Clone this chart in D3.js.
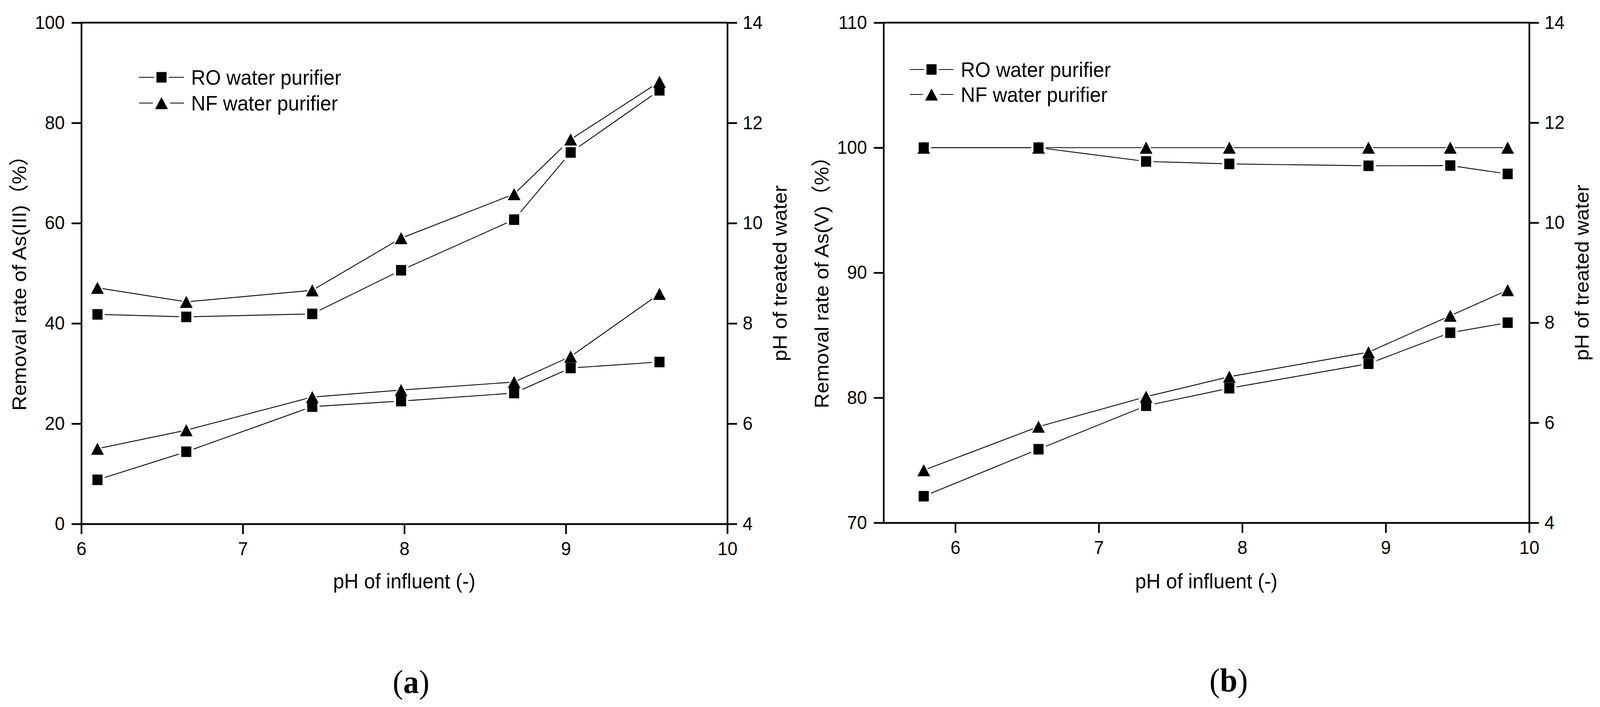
<!DOCTYPE html>
<html><head><meta charset="utf-8">
<script src="https://cdn.jsdelivr.net/npm/d3@7"></script>
<style>
html,body{margin:0;padding:0;background:#fff;overflow:hidden;width:100%;height:100%}
svg{display:block;background:#fff;width:100vw;height:100vh}
</style>
</head><body>
<svg id="chart" viewBox="0 0 4270 1811" preserveAspectRatio="none"></svg>
<script>
// ---------- DATA ----------
// Panel (a): As(III)
const phInfluentA   = [6.10, 6.65, 7.43, 7.98, 8.68, 9.03, 9.58];
const removalRO_A   = [41.8, 41.3, 41.9, 50.6, 60.7, 74.1, 86.5];
const removalNF_A   = [47.1, 44.3, 46.6, 57.0, 65.8, 76.7, 88.2];
const phTreatedRO_A = [4.88, 5.44, 6.34, 6.45, 6.61, 7.11, 7.23];
const phTreatedNF_A = [5.50, 5.87, 6.53, 6.67, 6.83, 7.34, 8.59];
const xTicksA  = [6, 7, 8, 9, 10];
const yLTicksA = [0, 20, 40, 60, 80, 100];
const yRTicks  = [4, 6, 8, 10, 12, 14];

// Panel (b): As(V)
const phInfluentB   = [5.78, 6.58, 7.33, 7.91, 8.88, 9.45, 9.85];
const removalRO_B   = [100, 100, 98.9, 98.7, 98.55, 98.57, 97.9];
const removalNF_B   = [100, 100, 100, 100, 100, 100, 100];
const phTreatedRO_B = [4.53, 5.47, 6.34, 6.69, 7.18, 7.80, 8.00];
const phTreatedNF_B = [5.05, 5.92, 6.52, 6.92, 7.41, 8.14, 8.65];
const xTicksB  = [6, 7, 8, 9, 10];
const yLTicksB = [70, 80, 90, 100, 110];

const seriesNames = ["RO water purifier", "NF water purifier"];
const xTitle = "pH of influent (-)";
const yRTitle = "pH of treated water";

// ---------- LAYOUT ----------
const FONT = '"Liberation Sans", Arial, "Noto Sans CJK SC", sans-serif';
const svg = d3.select("#chart");
svg.append("rect").attr("width", 4270).attr("height", 1811).attr("fill", "#fff");

const panels = [
  {
    x: phInfluentA, xDomain: [6, 10], xTicks: xTicksA,
    yLDomain: [0, 100], yLTicks: yLTicksA, yRDomain: [4, 14],
    removal: [removalRO_A, removalNF_A], ph: [phTreatedRO_A, phTreatedNF_A],
    left: 217, right: 1941, top: 58, bottom: 1342,
    yTitle: "Removal rate of As(III)（%）", yTitleX: 70, yTitleY: 712, yRTitleX: 2100,
    legX0: 371, legX1: 491, legMx: 431, legTx: 510, legY: [198, 264],
    label: "a", labelX: 1097, labelY: 1775
  },
  {
    x: phInfluentB, xDomain: [5.5, 10], xTicks: xTicksB,
    yLDomain: [70, 110], yLTicks: yLTicksB, yRDomain: [4, 14],
    removal: [removalRO_B, removalNF_B], ph: [phTreatedRO_B, phTreatedNF_B],
    left: 2358, right: 4081, top: 58, bottom: 1339,
    yTitle: "Removal rate of As(V)（%）", yTitleX: 2211, yTitleY: 710, yRTitleX: 4240,
    legX0: 2428, legX1: 2544, legMx: 2486, legTx: 2564, legY: [178, 242],
    label: "b", labelX: 3279, labelY: 1771
  }
];

const SQ = 27, TW = 34, TH = 31;
function squarePath(s) { const h = s / 2; return `M${-h},${-h}H${h}V${h}H${-h}Z`; }
function triPath(w, h) { return `M0,${-h/2}L${w/2},${h/2}L${-w/2},${h/2}Z`; }
const shapes = [squarePath(SQ), triPath(TW, TH)];
const halos = [squarePath(SQ + 12), triPath(TW + 14, TH + 12)];

function styleAxis(g, fs) {
  g.attr("font-family", FONT).attr("font-size", fs);
  g.selectAll("path.domain").attr("stroke", "#000").attr("stroke-width", 4.5).attr("stroke-linecap", "square");
  g.selectAll(".tick line").attr("stroke", "#000").attr("stroke-width", 4.5);
  g.selectAll(".tick text").attr("fill", "#000");
}

panels.forEach(p => {
  const x = d3.scaleLinear().domain(p.xDomain).range([p.left, p.right]);
  const yL = d3.scaleLinear().domain(p.yLDomain).range([p.bottom, p.top]);
  const yR = d3.scaleLinear().domain(p.yRDomain).range([p.bottom, p.top]);
  const g = svg.append("g");

  // data lines and markers
  const linesG = g.append("g");
  const haloG = g.append("g");
  const markG = g.append("g");
  const sets = [];
  p.removal.forEach((vals, i) => sets.push({ pts: vals.map((v, k) => [p.x[k], v]), y: yL, s: i }));
  p.ph.forEach((vals, i) => sets.push({ pts: vals.map((v, k) => [p.x[k], v]), y: yR, s: i }));
  sets.forEach(st => {
    const line = d3.line().x(d => x(d[0])).y(d => st.y(d[1]));
    linesG.append("path").attr("d", line(st.pts)).attr("fill", "none")
      .attr("stroke", "#000").attr("stroke-width", 2.2);
    haloG.selectAll(null).data(st.pts).enter().append("path")
      .attr("d", halos[st.s]).attr("fill", "#fff")
      .attr("transform", d => `translate(${x(d[0])},${st.y(d[1])})`);
  });
  sets.forEach(st => {
    markG.selectAll(null).data(st.pts).enter().append("path")
      .attr("d", shapes[st.s]).attr("fill", "#000")
      .attr("transform", d => `translate(${x(d[0])},${st.y(d[1])})`);
  });

  // axes
  const ax = g.append("g").attr("transform", `translate(0,${p.bottom})`)
    .call(d3.axisBottom(x).tickValues(p.xTicks).tickSize(26).tickSizeOuter(0).tickPadding(20).tickFormat(d3.format("d")));
  styleAxis(ax, 48);
  const al = g.append("g").attr("transform", `translate(${p.left},0)`)
    .call(d3.axisLeft(yL).tickValues(p.yLTicks).tickSize(26).tickSizeOuter(0).tickPadding(18).tickFormat(d3.format("d")));
  styleAxis(al, 48);
  const ar = g.append("g").attr("transform", `translate(${p.right},0)`)
    .call(d3.axisRight(yR).tickValues(yRTicks).tickSize(26).tickSizeOuter(0).tickPadding(15).tickFormat(d3.format("d")));
  styleAxis(ar, 48);
  // top frame
  g.append("line").attr("x1", p.left).attr("x2", p.right).attr("y1", p.top).attr("y2", p.top)
    .attr("stroke", "#000").attr("stroke-width", 4.5).attr("stroke-linecap", "square");

  // axis titles
  g.append("text").attr("x", (p.left + p.right) / 2).attr("y", 1507)
    .attr("text-anchor", "middle").attr("font-family", FONT).attr("font-size", 53).text(xTitle);
  g.append("text").attr("transform", `translate(${p.yTitleX},${p.yTitleY}) rotate(-90)`)
    .attr("text-anchor", "middle").attr("font-family", FONT).attr("font-size", 53).text(p.yTitle);
  g.append("text").attr("transform", `translate(${p.yRTitleX},${(p.top + p.bottom) / 2}) rotate(-90)`)
    .attr("text-anchor", "middle").attr("font-family", FONT).attr("font-size", 53).text(yRTitle);

  // legend
  seriesNames.forEach((name, i) => {
    const ly = p.legY[i];
    const gap = i === 0 ? SQ / 2 + 6 : TW / 2 + 6;
    g.append("line").attr("x1", p.legX0).attr("x2", p.legMx - gap).attr("y1", ly).attr("y2", ly)
      .attr("stroke", "#000").attr("stroke-width", 2.2);
    g.append("line").attr("x1", p.legMx + gap).attr("x2", p.legX1).attr("y1", ly).attr("y2", ly)
      .attr("stroke", "#000").attr("stroke-width", 2.2);
    g.append("path").attr("d", shapes[i]).attr("fill", "#000")
      .attr("transform", `translate(${p.legMx},${ly})`);
    g.append("text").attr("x", p.legTx).attr("y", ly + 19).attr("font-family", FONT)
      .attr("font-size", 53).text(name);
  });

  // panel label
  const t = g.append("text").attr("x", p.labelX).attr("y", p.labelY).attr("text-anchor", "middle")
    .attr("font-family", '"Liberation Serif", "Times New Roman", serif').attr("font-size", 84);
  t.append("tspan").text("(");
  t.append("tspan").attr("font-weight", "bold").text(p.label);
  t.append("tspan").text(")");
});
</script>
</body></html>
